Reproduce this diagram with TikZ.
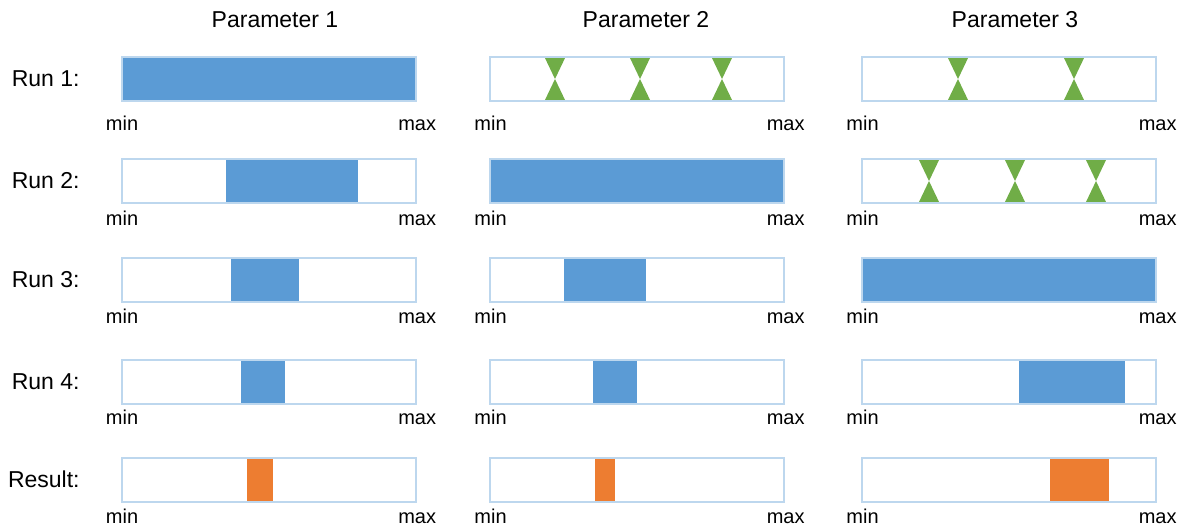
\documentclass[tikz,border=0pt]{standalone}
\usepackage{fontspec}
\setmainfont{Liberation Sans}
\definecolor{barline}{HTML}{BDD7EE}
\definecolor{runblue}{HTML}{5B9BD5}
\definecolor{resorange}{HTML}{ED7D31}
\definecolor{markgreen}{HTML}{70AD47}

\begin{document}
\begin{tikzpicture}[x=0.5pt,y=-0.5pt]
        \tikzstyle{every node}=[font=\fontsize{11.5}{14}\selectfont, inner sep=0pt]
        \tikzstyle{bar}=[draw=barline, line width=1pt, minimum width=147pt, minimum height=22pt]
        \tikzstyle{limit}=[font=\fontsize{10}{12}\selectfont]
        \tikzstyle{runfill}=[fill=runblue]
        \tikzstyle{resultfill}=[fill=resorange]
        \tikzstyle{hourglass}=[fill=markgreen]

        \useasboundingbox (0,0) rectangle (1188,531);

        % column headers
        \node[anchor=base] (par1) at (275,27) {Parameter 1};
        \node[anchor=base] (par2) at (646,27) {Parameter 2};
        \node[anchor=base] (par3) at (1015,27) {Parameter 3};

        % searched ranges
        \fill[runfill] (121.5,57) rectangle (415.5,101);
        \fill[runfill] (226,159) rectangle (358,203);
        \fill[runfill] (490,159) rectangle (784,203);
        \fill[runfill] (231,257.5) rectangle (299,301.5);
        \fill[runfill] (564,257.5) rectangle (646,301.5);
        \fill[runfill] (862,257.5) rectangle (1156,301.5);
        \fill[runfill] (241,359.5) rectangle (285,403.5);
        \fill[runfill] (593,359.5) rectangle (637,403.5);
        \fill[runfill] (1019,359.5) rectangle (1125,403.5);
        \fill[resultfill] (247,457.5) rectangle (273,501.5);
        \fill[resultfill] (595,457.5) rectangle (615,501.5);
        \fill[resultfill] (1050,457.5) rectangle (1109,501.5);

        % fixed values
        \foreach \x/\ym in {555/79, 640/79, 722/79, 958/79, 1074/79, 929/181, 1015/181, 1096/181} {
            \fill[hourglass] (\x-10.5,\ym-22) -- (\x+10.5,\ym-22) -- (\x,\ym) -- cycle;
            \fill[hourglass] (\x-10.5,\ym+22) -- (\x+10.5,\ym+22) -- (\x,\ym) -- cycle;
        }

        % runs
        \foreach \lab/\yc/\yb [count=\r] in {Run 1:/79/130, Run 2:/181/225, Run 3:/279.5/323, Run 4:/381.5/424, Result:/479.5/523} {
            \node[anchor=east] (run\r) at (80,\yc) {\lab};
            \foreach \xc [count=\c] in {268.5,637,1009} {
                \node[bar] (bar\r\c) at (\xc,\yc) {};
                \node[limit, anchor=base west] (min\r\c) at (\xc-163,\yb) {min};
                \node[limit, anchor=base east] (max\r\c) at (\xc+168,\yb) {max};
            }
        }
    \end{tikzpicture}
\end{document}
